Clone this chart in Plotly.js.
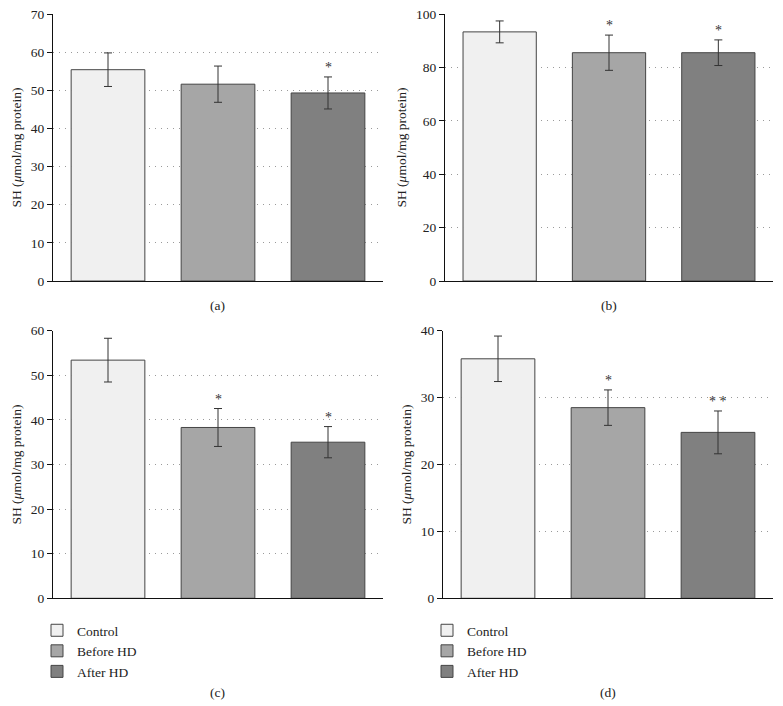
<!DOCTYPE html>
<html>
<head>
<meta charset="utf-8">
<script src="https://cdn.plot.ly/plotly-3.0.1.min.js"></script>
<style>html,body{margin:0;padding:0;background:#fff;}#chart{width:783px;height:706px;}</style>
</head>
<body>
<div id="chart"></div>
<script>
// ---- Data ----
const categories = ['Control', 'Before HD', 'After HD'];
const panelLabels = ['(a)', '(b)', '(c)', '(d)'];

const valuesA = [55.4, 51.6, 49.3];
const errorsA = [4.4, 4.75, 4.2];
const starsA = ['', '', '*'];

const valuesB = [93.3, 85.5, 85.5];
const errorsB = [4.1, 6.6, 4.8];
const starsB = ['', '*', '*'];

const valuesC = [53.4, 38.3, 35.0];
const errorsC = [4.9, 4.25, 3.5];
const starsC = ['', '*', '*'];

const valuesD = [35.8, 28.5, 24.8];
const errorsD = [3.4, 2.65, 3.2];
const starsD = ['', '*', '* *'];

const yMax = [70, 100, 60, 40];
const yDtick = [10, 20, 10, 10];

// ---- Styles ----
const barColors = ['#f0f0f0', '#a6a6a6', '#808080'];
const FONT = '"Liberation Serif", "DejaVu Serif", serif';

const panels = [
  {v: valuesA, e: errorsA, s: starsA},
  {v: valuesB, e: errorsB, s: starsB},
  {v: valuesC, e: errorsC, s: starsC},
  {v: valuesD, e: errorsD, s: starsD}
];

const W = 783, H = 706;
const boxes = [
  {x0: 53, x1: 383, y0: 14, y1: 281},
  {x0: 445, x1: 773, y0: 14, y1: 281},
  {x0: 53, x1: 383, y0: 330.7, y1: 598.3},
  {x0: 443, x1: 773, y0: 330.7, y1: 598.3}
];

const traces = [];
const annotations = [];
const legendFont = {family: FONT, size: 13.5, color: '#222'};
const layout = {
  width: W, height: H,
  margin: {l: 0, r: 0, t: 0, b: 0},
  paper_bgcolor: '#fff', plot_bgcolor: '#fff',
  barmode: 'overlay',
  font: {family: FONT, color: '#222', size: 13},
  showlegend: true,
  legend: {x: 37 / W, y: 1 - 615 / H, xanchor: 'left', yanchor: 'top',
           bgcolor: 'rgba(0,0,0,0)', font: legendFont},
  legend2: {x: 427 / W, y: 1 - 615 / H, xanchor: 'left', yanchor: 'top',
            bgcolor: 'rgba(0,0,0,0)', font: legendFont}
};

panels.forEach((p, i) => {
  const sfx = i === 0 ? '' : String(i + 1);
  const b = boxes[i];
  layout['xaxis' + sfx] = {
    domain: [b.x0 / W, b.x1 / W],
    anchor: 'y' + sfx,
    type: 'category',
    range: [-0.5, 2.5],
    showticklabels: false,
    ticks: '',
    showgrid: false,
    zeroline: false,
    showline: true, linecolor: '#111', linewidth: 1,
    fixedrange: true
  };
  layout['yaxis' + sfx] = {
    domain: [1 - b.y1 / H, 1 - b.y0 / H],
    anchor: 'x' + sfx,
    range: [0, yMax[i]],
    dtick: yDtick[i], tick0: 0,
    ticks: 'outside', ticklen: 5, tickcolor: '#111', tickwidth: 1,
    tickfont: {family: FONT, size: 13.5, color: '#222'},
    showline: true, linecolor: '#111', linewidth: 1,
    zeroline: false,
    showgrid: true, gridcolor: '#9a9a9a', gridwidth: 1, griddash: '1px,5px',
    title: {text: 'SH (<i>μ</i>mol/mg protein)', font: {family: FONT, size: 13.5, color: '#222'}, standoff: 6},
    fixedrange: true
  };
  categories.forEach((c, k) => {
    const t = {
      type: 'bar',
      x: [c], y: [p.v[k]],
      name: c,
      xaxis: 'x' + sfx, yaxis: 'y' + sfx,
      width: 0.67,
      marker: {color: barColors[k], line: {color: '#444', width: 1}},
      error_y: {type: 'data', array: [p.e[k]], visible: true, color: '#333', thickness: 1, width: 4},
      showlegend: i >= 2,
      hoverinfo: 'skip'
    };
    if (i === 3) t.legend = 'legend2';
    traces.push(t);
    if (p.s[k]) {
      annotations.push({
        xref: 'x' + sfx, yref: 'y' + sfx,
        x: c, y: p.v[k] + p.e[k],
        text: p.s[k], showarrow: false,
        yanchor: 'bottom', yshift: 0,
        font: {family: FONT, size: 14, color: '#333'}
      });
    }
  });
  const labelY = i < 2 ? 305 : 692;
  annotations.push({
    xref: 'paper', yref: 'paper',
    x: ((b.x0 + b.x1) / 2) / W, y: 1 - labelY / H,
    text: panelLabels[i], showarrow: false,
    xanchor: 'center', yanchor: 'middle',
    font: {family: FONT, size: 13.5, color: '#222'}
  });
});

layout.annotations = annotations;

Plotly.newPlot('chart', traces, layout, {displayModeBar: false, staticPlot: true});
</script>
</body>
</html>
